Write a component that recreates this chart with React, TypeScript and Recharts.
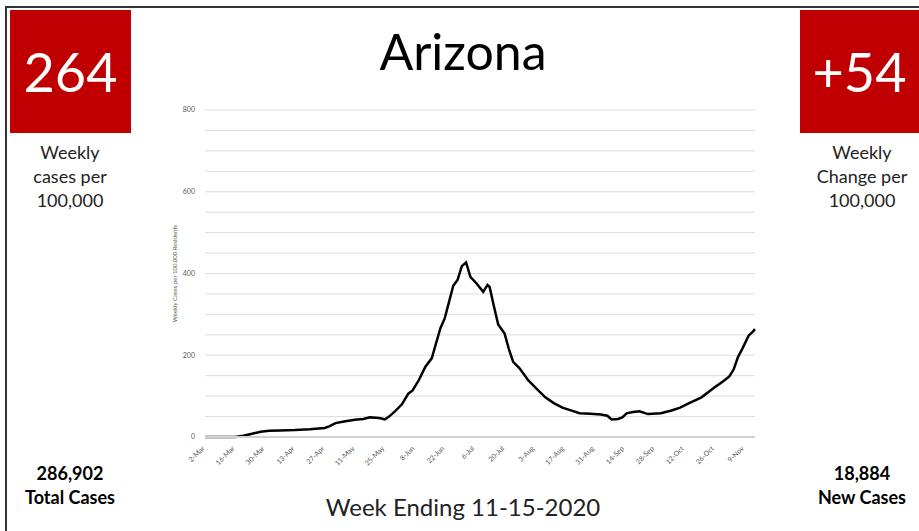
import React from "react";
import { LineChart, Line, XAxis, YAxis, CartesianGrid } from "recharts";

// days since 2-Mar-2020
const DAYS = [
  0, 7, 14, 18, 22, 26, 30, 35, 42, 49, 56, 58, 61, 65, 70, 74, 77, 80, 82, 84,
  86, 89, 92, 95, 97, 100, 103, 106, 108, 110, 112, 114, 116, 118, 120, 122,
  124, 127, 130, 132, 133, 135, 137, 140, 142, 144, 147, 151, 155, 159, 163,
  167, 171, 175, 180, 185, 188, 190, 193, 195, 197, 200, 203, 207, 213, 218,
  222, 226, 232, 238, 242, 245, 247, 249, 251, 254, 256, 257,
];

// weekly cases per 100,000 residents
const CASES = [
  0, 0, 0, 3, 8, 13, 15, 16, 17, 19, 22, 26, 34, 38, 42, 44, 48, 47, 46, 43,
  50, 64, 80, 106, 114, 140, 172, 193, 230, 266, 290, 330, 370, 384, 418, 427,
  392, 375, 355, 372, 367, 320, 275, 253, 215, 184, 168, 139, 118, 97, 83,
  72, 65, 58, 57, 55, 52, 43, 44, 48, 58, 61, 63, 56, 58, 65,
  72, 82, 97, 121, 136, 148, 165, 195, 215, 248, 258, 264,
];

const TICK_DAYS = [0, 14, 28, 42, 56, 70, 84, 98, 112, 126, 140, 154, 168, 182, 196, 210, 224, 238, 252];
const TICK_LABELS = [
  "2-Mar", "16-Mar", "30-Mar", "13-Apr", "27-Apr", "11-May", "25-May", "8-Jun", "22-Jun",
  "6-Jul", "20-Jul", "3-Aug", "17-Aug", "31-Aug", "14-Sep", "28-Sep", "12-Oct", "26-Oct", "9-Nov",
];

const Y_TICKS = [0, 50, 100, 150, 200, 250, 300, 350, 400, 450, 500, 550, 600, 650, 700, 750, 800];

const data = DAYS.map((d, i) => ({ day: d, cases: CASES[i] }));

const FONT = "Lato, 'Open Sans', sans-serif";
const RED = "#c00000";

function DateTick(props: any) {
  const { x, y, payload } = props;
  const idx = TICK_DAYS.indexOf(payload.value);
  return (
    <text
      x={x}
      y={y + 4}
      textAnchor="end"
      fontSize={7}
      fill="#595959"
      fontFamily={FONT}
      transform={`rotate(-45, ${x}, ${y + 4})`}
    >
      {idx >= 0 ? TICK_LABELS[idx] : ""}
    </text>
  );
}

const box = (left: number, width: number): React.CSSProperties => ({
  position: "absolute",
  left,
  top: 10,
  width,
  height: 123,
  background: RED,
  color: "#fff",
  fontSize: 54,
  display: "flex",
  alignItems: "center",
  justifyContent: "center",
});

const caption = (cx: number, top: number): React.CSSProperties => ({
  position: "absolute",
  left: cx - 70,
  width: 140,
  top,
  textAlign: "center",
  fontSize: 18,
  lineHeight: "24px",
  color: "#222",
});

export default function App() {
  return (
    <div
      style={{
        position: "absolute",
        left: 0,
        top: 0,
        width: 919,
        height: 531,
        background: "#fff",
        fontFamily: FONT,
        overflow: "hidden",
      }}
    >
      <div
        style={{
          position: "absolute",
          left: 5,
          top: 6,
          width: 930,
          height: 540,
          borderLeft: "2px solid #333",
          borderTop: "2px solid #333",
        }}
      />
      <LineChart
        width={919}
        height={531}
        data={data}
        margin={{ top: 110, right: 164, bottom: 59, left: 175 }}
        style={{ position: "absolute", left: 0, top: 0 }}
      >
        <CartesianGrid vertical={false} stroke="#dcdcdc" />
        <XAxis
          dataKey="day"
          type="number"
          domain={[0, 257]}
          ticks={TICK_DAYS}
          interval={0}
          height={35}
          tick={<DateTick />}
          tickLine={false}
          axisLine={{ stroke: "#d0d0d0", strokeWidth: 2 }}
        />
        <YAxis
          type="number"
          domain={[0, 800]}
          ticks={Y_TICKS}
          interval={0}
          width={30}
          tickLine={false}
          axisLine={false}
          tickMargin={4}
          tick={{ fontSize: 7, fill: "#595959", fontFamily: FONT }}
          tickFormatter={(v: number) => (v % 200 === 0 ? String(v) : "")}
          label={{
            value: "Weekly Cases per 100,000 Residents",
            angle: -90,
            position: "insideLeft",
            offset: 0,
            style: { fontSize: 6, fill: "#595959", fontFamily: FONT, textAnchor: "middle" },
          }}
        />
        <Line
          type="linear"
          dataKey="cases"
          stroke="#000"
          strokeWidth={2.5}
          dot={false}
          isAnimationActive={false}
        />
      </LineChart>

      <div style={box(10, 121)}>264</div>
      <div style={box(800, 119)}>+54</div>

      <div style={caption(70, 140)}>
        Weekly
        <br />
        cases per
        <br />
        100,000
      </div>
      <div style={caption(862, 140)}>
        Weekly
        <br />
        Change per
        <br />
        100,000
      </div>

      <div
        style={{
          position: "absolute",
          left: 263,
          width: 400,
          top: 21,
          textAlign: "center",
          fontSize: 50,
          color: "#000",
        }}
      >
        Arizona
      </div>

      <div style={{ ...caption(70, 461), fontWeight: 700, fontSize: 18, color: "#000" }}>
        286,902
        <br />
        Total Cases
      </div>
      <div style={{ ...caption(862, 461), fontWeight: 700, fontSize: 18, color: "#000" }}>
        18,884
        <br />
        New Cases
      </div>

      <div
        style={{
          position: "absolute",
          left: 213,
          width: 500,
          top: 492,
          textAlign: "center",
          fontSize: 24,
          color: "#222",
        }}
      >
        Week Ending 11-15-2020
      </div>
    </div>
  );
}
